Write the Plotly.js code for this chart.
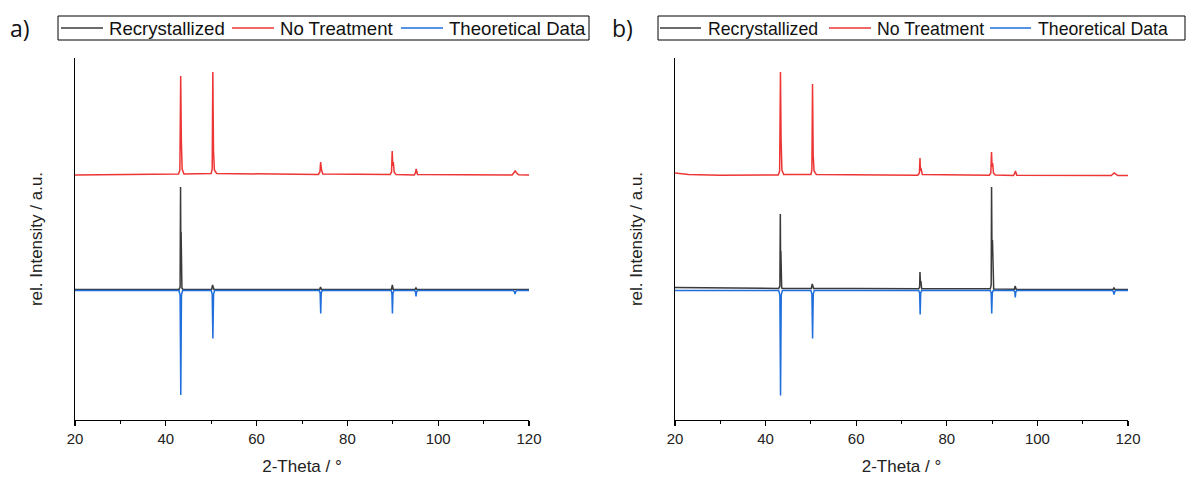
<!DOCTYPE html>
<html>
<head>
<meta charset="utf-8">
<script src="https://cdn.plot.ly/plotly-3.0.1.min.js"></script>
<style>html,body{margin:0;padding:0;background:#fff;}#chart{width:1196px;height:478px;}</style>
</head>
<body>
<div id="chart"></div>
<script>
// ---------- Data (2-Theta in degrees, intensity in arbitrary offset units) ----------
// Panel a) Recrystallized (black)
const aRecX = [20, 30, 42.9, 43.15, 43.25, 43.31, 43.37, 43.44, 43.55, 43.8, 50.1, 50.3, 50.42, 50.6, 73.9, 74.08, 74.3, 89.7, 89.9, 90.1, 94.9, 95.1, 95.3, 116.7, 116.9, 117.1, 120];
const aRecY = [0.6, 0.5, 0.6, 3, 103, 40, 58, 12, 2, 0.6, 0.6, 5, 2, 0.5, 0.5, 3, 0.5, 0.5, 5, 0.5, 0.5, 2, 0.5, 0.5, 1, 0.5, 0.5];
// Panel a) No Treatment (red)
const aRawX = [20, 30, 42.8, 43.1, 43.28, 43.42, 43.6, 44.0, 50.0, 50.22, 50.36, 50.5, 50.7, 51.2, 73.6, 73.95, 74.1, 74.3, 74.6, 89.4, 89.72, 89.87, 90.0, 90.12, 90.3, 90.7, 94.7, 95.0, 95.15, 95.45, 116.3, 116.7, 116.95, 117.3, 117.7, 120];
const aRawY = [115, 115.5, 116, 120, 214, 150, 121, 116, 116.5, 121, 218, 140, 120, 116.5, 115.5, 118, 128, 120, 116, 115.5, 118, 139, 124, 128, 118, 115.5, 115, 117, 121, 115.5, 115, 117, 119, 117, 115.3, 115];
// Panel a) Theoretical Data (blue, plotted downwards)
const aTheoX = [20, 42.9, 43.15, 43.3, 43.45, 43.7, 50.0, 50.22, 50.37, 50.52, 50.75, 73.8, 74.0, 74.12, 74.24, 74.45, 89.6, 89.8, 89.92, 90.04, 90.25, 94.8, 95.0, 95.12, 95.24, 95.45, 116.5, 116.75, 116.92, 117.09, 117.35, 120];
const aTheoY = [-0.5, -0.5, -5, -105, -5, -0.5, -0.5, -4, -48.5, -4, -0.5, -0.5, -3, -23.5, -3, -0.5, -0.5, -3, -23.5, -3, -0.5, -0.5, -1.8, -6.5, -1.8, -0.5, -0.5, -1.4, -4, -1.4, -0.5, -0.5];

// Panel b) Recrystallized (black)
const bRecX = [20, 25, 35, 42.9, 43.15, 43.25, 43.31, 43.37, 43.44, 43.55, 43.8, 50.1, 50.3, 50.42, 50.6, 60, 73.8, 74.0, 74.08, 74.18, 74.28, 74.45, 88, 89.6, 89.8, 89.88, 89.98, 90.08, 90.18, 90.35, 94.9, 95.1, 95.3, 105, 116.7, 116.9, 117.1, 120];
const bRecY = [2.5, 2.2, 1.8, 1.6, 4, 76, 30, 39, 8, 2, 1.6, 1.5, 6, 2.5, 1.5, 1.4, 1.2, 3, 18, 6, 9, 1.3, 1.2, 1.3, 5, 103, 35, 50, 6, 1, 0.8, 4, 0.8, 0.6, 0.5, 2, 0.5, 0.5];
// Panel b) No Treatment (red)
const bRawX = [20, 21, 23, 30, 42.8, 43.1, 43.28, 43.42, 43.6, 44.0, 50.0, 50.22, 50.36, 50.5, 50.7, 51.2, 73.6, 73.95, 74.08, 74.18, 74.28, 74.6, 89.4, 89.72, 89.87, 90.0, 90.12, 90.3, 90.7, 94.7, 95.0, 95.15, 95.45, 116.3, 116.7, 116.95, 117.3, 117.7, 120];
const bRawY = [117, 116.5, 115.5, 114.8, 115, 119, 218, 150, 120, 115.5, 115.5, 120, 206, 135, 119, 115.5, 114.8, 117, 132, 119, 122, 115.5, 114.8, 117, 138, 123, 127, 117, 115, 114.5, 116.5, 119, 114.8, 114.5, 116, 117, 116, 114.6, 114.5];
// Panel b) Theoretical Data (blue, plotted downwards)
const bTheoX = [20, 42.9, 43.15, 43.3, 43.45, 43.7, 50.0, 50.22, 50.37, 50.52, 50.75, 73.8, 74.0, 74.12, 74.24, 74.45, 89.6, 89.8, 89.92, 90.04, 90.25, 94.8, 95.0, 95.12, 95.24, 95.45, 116.5, 116.75, 116.92, 117.09, 117.35, 120];
const bTheoY = [-0.5, -0.5, -5, -105.5, -5, -0.5, -0.5, -4, -48.5, -4, -0.5, -0.5, -3, -24.5, -3, -0.5, -0.5, -3, -23.5, -3, -0.5, -0.5, -1.8, -7.5, -1.8, -0.5, -0.5, -1.4, -4.5, -1.4, -0.5, -0.5];

const seriesNames = ['Recrystallized', 'No Treatment', 'Theoretical Data'];
const seriesColors = ['#3a3a3a', '#ee3535', '#1e6edc'];
const xTicks = [20, 40, 60, 80, 100, 120];
const panelLabels = ['a)', 'b)'];

// ---------- Traces ----------
const font = 'Liberation Sans, Arial, sans-serif';
function tr(x, y, i, xa, ya) {
  return {
    x: x, y: y, type: 'scatter', mode: 'lines', name: seriesNames[i],
    xaxis: xa, yaxis: ya, showlegend: false,
    line: {color: seriesColors[i], width: 1.5}, hoverinfo: 'x+y+name'
  };
}
const data = [
  tr(aRecX, aRecY, 0, 'x', 'y'),
  tr(aRawX, aRawY, 1, 'x', 'y'),
  tr(aTheoX, aTheoY, 2, 'x', 'y'),
  tr(bRecX, bRecY, 0, 'x2', 'y2'),
  tr(bRawX, bRawY, 1, 'x2', 'y2'),
  tr(bTheoX, bTheoY, 2, 'x2', 'y2')
];

const W = 1196, H = 478;
function xax(d0, d1, anchor) {
  return {
    domain: [d0 / W, d1 / W], anchor: anchor, range: [20, 120],
    showline: true, linecolor: '#000', linewidth: 1.3, mirror: false,
    showgrid: false, zeroline: false,
    tickmode: 'array', tickvals: xTicks, ticktext: xTicks.map(String),
    ticks: 'outside', ticklen: 5, tickwidth: 1.2, tickcolor: '#000',
    minor: {dtick: 10, tick0: 0, ticks: 'outside', ticklen: 3, tickwidth: 1, tickcolor: '#000', showgrid: false},
    tickfont: {family: font, size: 15, color: '#222'},
    title: {text: '2-Theta / °', font: {family: font, size: 17, color: '#222'}, standoff: 13}
  };
}
function yax(anchor) {
  return {
    domain: [1 - 420 / H, 1 - 58 / H], anchor: anchor, range: [-130, 232],
    showline: true, linecolor: '#000', linewidth: 1.3,
    showgrid: false, zeroline: false, ticks: '', showticklabels: false,
    title: {text: 'rel. Intensity / a.u.', font: {family: font, size: 17, color: '#222'}, standoff: 26}
  };
}

// ---------- Legend boxes (drawn as layout shapes + text) ----------
const legendBoxes = [
  {x0: 58, x1: 589, lines: [[61, 103], [232, 274], [401, 443]], texts: [108, 279, 448], size: 18.6},
  {x0: 658, x1: 1185, lines: [[660, 701], [829, 871], [990, 1031]], texts: [707, 876, 1037], size: 17.7}
];
const legTop = 16, legBot = 40, legMid = 28;
const shapes = [];
const annotations = [];
legendBoxes.forEach(function (b) {
  shapes.push({type: 'rect', xref: 'paper', yref: 'paper', x0: b.x0 / W, x1: b.x1 / W, y0: 1 - legBot / H, y1: 1 - legTop / H,
    line: {color: '#000', width: 1}, fillcolor: '#fff', layer: 'above'});
  seriesNames.forEach(function (nm, i) {
    shapes.push({type: 'line', xref: 'paper', yref: 'paper', x0: b.lines[i][0] / W, x1: b.lines[i][1] / W,
      y0: 1 - legMid / H, y1: 1 - legMid / H, line: {color: seriesColors[i], width: 1.5}, layer: 'above'});
    annotations.push({text: nm, xref: 'paper', yref: 'paper', x: b.texts[i] / W, y: 1 - (legMid + 0.5) / H,
      xanchor: 'left', yanchor: 'middle', showarrow: false, borderpad: 0,
      font: {family: font, size: b.size, color: '#111'}});
  });
});
annotations.push(
  {text: panelLabels[0], xref: 'paper', yref: 'paper', x: 8 / W, y: 1 - 28 / H, xanchor: 'left', yanchor: 'middle', showarrow: false, font: {family: 'Open Sans, sans-serif', size: 23, color: '#111'}},
  {text: panelLabels[1], xref: 'paper', yref: 'paper', x: 610 / W, y: 1 - 28 / H, xanchor: 'left', yanchor: 'middle', showarrow: false, font: {family: 'Open Sans, sans-serif', size: 23, color: '#111'}}
);

const layout = {
  width: W, height: H,
  margin: {l: 0, r: 0, t: 0, b: 0},
  paper_bgcolor: '#fff', plot_bgcolor: '#fff',
  showlegend: false,
  xaxis: xax(75, 529, 'y'),
  yaxis: yax('x'),
  xaxis2: xax(675, 1128, 'y2'),
  yaxis2: yax('x2'),
  shapes: shapes,
  annotations: annotations
};
Plotly.newPlot('chart', data, layout, {displayModeBar: false, staticPlot: true});
</script>
</body>
</html>
